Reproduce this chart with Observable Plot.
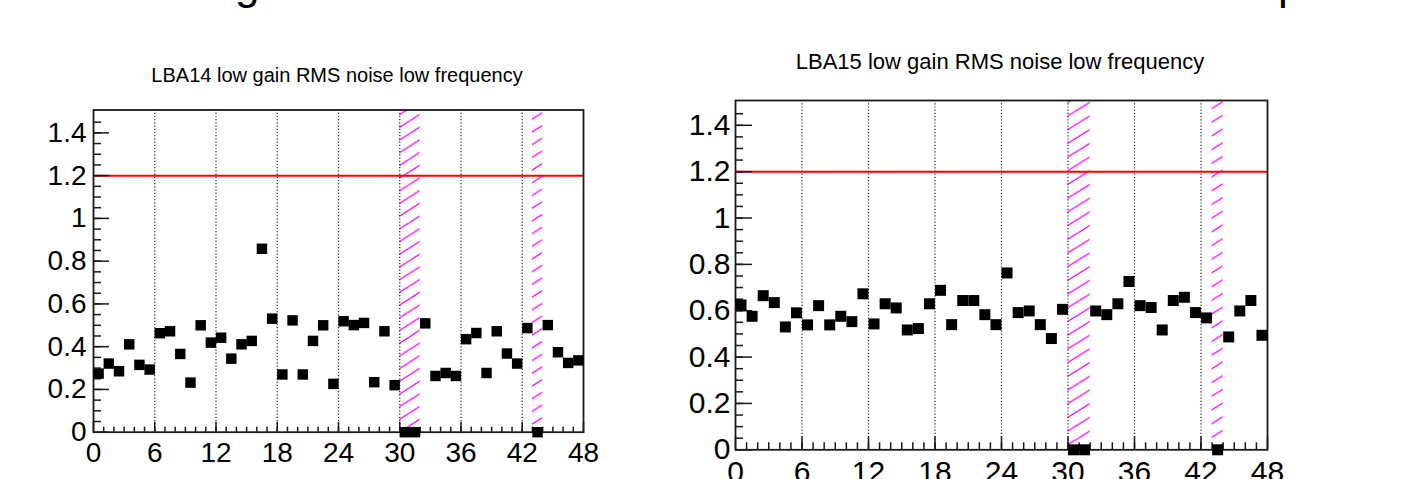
<!DOCTYPE html>
<html><head><meta charset="utf-8">
<script src="https://cdn.jsdelivr.net/npm/d3@7"></script>
<script src="https://cdn.jsdelivr.net/npm/@observablehq/plot@0.6"></script>
<style>
html,body{margin:0;padding:0;background:#fff;width:1418px;height:479px;overflow:hidden;font-family:"Liberation Sans",Arial,sans-serif;position:relative;}
.title{position:absolute;white-space:nowrap;transform:translate(-50%,-50%);color:#000;line-height:1;}
#head{position:absolute;left:0;top:0;}
#p14,#p15{position:absolute;top:0;}
</style></head><body>
<svg id="head" width="1418" height="20" xmlns="http://www.w3.org/2000/svg">
  <text x="235" y="-1" font-size="44" font-family="Liberation Sans, Arial, sans-serif" fill="#000">g</text>
  <text x="1278" y="-1" font-size="44" font-family="Liberation Sans, Arial, sans-serif" fill="#000">p</text>
</svg>
<div id="t14" class="title" style="left:337px;top:75px;font-size:20px">LBA14 low gain RMS noise low frequency</div>
<div id="t15" class="title" style="left:1000px;top:62px;font-size:22px">LBA15 low gain RMS noise low frequency</div>
<div id="p14" style="left:0px"></div>
<div id="p15" style="left:660px"></div>
<script>
// channel index (bin) 0..47
const channels = d3.range(48);
// LBA14 low gain RMS noise, low frequency
const lba14 = [0.274,0.321,0.285,0.411,0.315,0.293,0.463,0.472,0.366,0.232,
               0.500,0.419,0.442,0.344,0.411,0.427,0.858,0.531,0.270,0.523,
               0.270,0.427,0.500,0.226,0.519,0.501,0.511,0.234,0.472,0.220,
               0,0,0.509,0.263,0.277,0.263,0.435,0.464,0.277,0.472,
               0.368,0.321,0.487,0,0.501,0.374,0.324,0.336];
// LBA15 low gain RMS noise, low frequency
const lba15 = [0.625,0.576,0.665,0.635,0.530,0.591,0.539,0.622,0.539,0.576,
               0.553,0.673,0.543,0.630,0.612,0.517,0.523,0.630,0.688,0.540,
               0.644,0.644,0.583,0.540,0.763,0.592,0.599,0.540,0.480,0.606,
               0,0,0.599,0.583,0.630,0.726,0.622,0.614,0.517,0.644,
               0.658,0.592,0.569,0,0.487,0.599,0.644,0.494];
const flagged = [30,31,43];
const threshold = 1.2;
const xTicks = [0,6,12,18,24,30,36,42,48];
const xTickLabels = ["0","6","12","18","24","30","36","42","48"];
const gridX = [6,12,18,24,30,36,42];
const yTicks = [0,0.2,0.4,0.6,0.8,1.0,1.2,1.4];
const yTickLabels = ["0","0.2","0.4","0.6","0.8","1","1.2","1.4"];
const yMax = 1.507;
const xMinor = d3.range(1,48);
const yMinor = d3.range(0.05,1.5,0.05);

function panel(cfg){
  const {values,id,width,height,mt,mr,mb,ml,fs,yMaj,yMin,xMaj,xMin,xPad,yPad} = cfg;
  const fw = width-ml-mr, fh = height-mt-mb;
  const data = channels.map((c,i)=>({ch:c, v:values[i]}));
  const ink = "#1a1a1a";
  const svg = Plot.plot({
    width, height, marginTop:mt, marginRight:mr, marginBottom:mb, marginLeft:ml,
    x:{domain:[0,48], axis:null},
    y:{domain:[0,yMax], axis:null},
    style:{fontFamily:'"Liberation Sans",Arial,sans-serif', background:"transparent", overflow:"visible", color:"#000"},
    marks:[
      Plot.rect(flagged,{x1:d=>d, x2:d=>d+1, y1:0, y2:yMax, fill:`url(#${id})`}),
      Plot.ruleX(gridX,{stroke:"#222", strokeWidth:1.2, strokeDasharray:"1.2,2"}),
      Plot.ruleY([threshold],{stroke:"#ff0000", strokeWidth:2}),
      Plot.tickY(yMinor,{y:d=>d, insetRight:fw-yMin, stroke:ink, strokeWidth:1.5}),
      Plot.tickY(yTicks,{y:d=>d, insetRight:fw-yMaj, stroke:ink, strokeWidth:1.5}),
      Plot.tickX(xMinor,{x:d=>d, insetTop:fh-xMin, stroke:ink, strokeWidth:1.5}),
      Plot.tickX(xTicks,{x:d=>d, insetTop:fh-xMaj, stroke:ink, strokeWidth:1.5}),
      Plot.axisX({ticks:xTicks, tickSize:0, tickPadding:xPad, fontSize:fs, label:null,
                  tickFormat:d=>xTickLabels[xTicks.indexOf(d)]}),
      Plot.axisY({ticks:yTicks, tickSize:0, tickPadding:yPad, fontSize:fs, label:null,
                  tickFormat:d=>yTickLabels[yTicks.indexOf(d)]}),
      Plot.frame({stroke:ink, strokeWidth:1.8}),
      Plot.dot(data,{x:d=>d.ch+0.5, y:"v", symbol:"square", r:cfg.r, fill:"#000", stroke:null})
    ]
  });
  const ns = "http://www.w3.org/2000/svg";
  const defs = document.createElementNS(ns,"defs");
  const pat = document.createElementNS(ns,"pattern");
  const w = cfg.hatchW, h = cfg.hatchH;
  pat.setAttribute("id",id);
  pat.setAttribute("patternUnits","userSpaceOnUse");
  pat.setAttribute("width",w); pat.setAttribute("height",h);
  const path = document.createElementNS(ns,"path");
  path.setAttribute("d",`M-2,1.37L2,-1.37M0,${h}L${w},0M${w-2},${h+1.37}L${w+2},${h-1.37}`);
  path.setAttribute("stroke","#ff00ff"); path.setAttribute("stroke-width","1.3");
  pat.appendChild(path); defs.appendChild(pat);
  svg.insertBefore(defs, svg.firstChild);
  return svg;
}

document.getElementById("p14").appendChild(panel({
  values:lba14, id:"hatch14", width:660, height:479, mt:109.5, mr:77, mb:47.3, ml:93,
  fs:28, yMaj:16, yMin:8, xMaj:10, xMin:5, xPad:10, yPad:7, r:5.9, hatchW:20, hatchH:12.7
}));
document.getElementById("p15").appendChild(panel({
  values:lba15, id:"hatch15", width:758, height:479, mt:100, mr:151, mb:29.7, ml:75,
  fs:30, yMaj:17, yMin:8, xMaj:13, xMin:7, xPad:11, yPad:5, r:6.2, hatchW:22, hatchH:13.7
}));
</script>
</body></html>
